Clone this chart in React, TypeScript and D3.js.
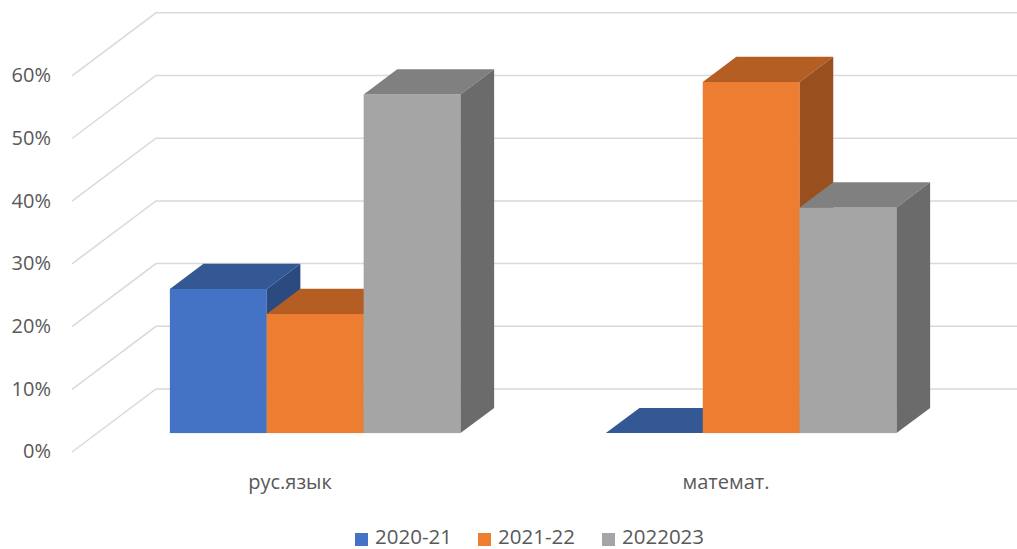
import * as d3 from 'd3';

const categories = ['рус.язык', 'математ.'];
const seriesNames = ['2020-21', '2021-22', '2022023'];
const values2020 = [0.23, 0];
const values2021 = [0.19, 0.56];
const values2022 = [0.54, 0.36];
const tickValues = [0, 0.1, 0.2, 0.3, 0.4, 0.5, 0.6];

const seriesValues = [values2020, values2021, values2022];
const colors = [
  { front: '#4472C4', top: '#335894', side: '#2a4a80' },
  { front: '#ED7D31', top: '#b45e23', side: '#9a4f1e' },
  { front: '#A5A5A5', top: '#808080', side: '#6b6b6b' },
];

const width = 1017;
const height = 549;
const font = '"Open Sans", "DejaVu Sans", sans-serif';

export default function App() {
  // front plane of the floor, depth goes up-right
  const x = d3.scaleBand().domain(categories).range([72, 944]).paddingInner(0).paddingOuter(0);
  const xs = d3.scaleBand().domain(seriesNames).range([0, x.bandwidth()]).paddingInner(0).paddingOuter(0.75);
  const y = d3.scaleLinear().domain([0, 0.6]).range([452, 75.8]);

  const depthX = 84;
  const depthY = -63;
  const d0 = 0.3;
  const d1 = 0.7;
  const ox = depthX * d0, oy = depthY * d0;
  const bx = depthX * (d1 - d0), by = depthY * (d1 - d0);

  const pts = (p: number[][]) => p.map(q => q.join(',')).join(' ');

  const bars: JSX.Element[] = [];
  categories.forEach((cat, ci) => {
    seriesNames.forEach((s, si) => {
      const v = seriesValues[si][ci];
      const xl = (x(cat) as number) + (xs(s) as number) + ox;
      const xr = xl + xs.bandwidth();
      const yb = y(0) + oy;
      const yt = y(v) + oy;
      const c = colors[si];
      bars.push(
        <g key={cat + s}>
          {v > 0 && <rect x={xl} y={yt} width={xr - xl} height={yb - yt} fill={c.front} />}
          <polygon points={pts([[xl, yt], [xr, yt], [xr + bx, yt + by], [xl + bx, yt + by]])} fill={c.top} />
          {v > 0 && <polygon points={pts([[xr, yt], [xr + bx, yt + by], [xr + bx, yb + by], [xr, yb]])} fill={c.side} />}
        </g>
      );
    });
  });

  const x0 = x.range()[0];
  const xEnd = x.range()[1] + depthX;

  return (
    <svg width={width} height={height} style={{ position: 'fixed', left: 0, top: 0, background: '#fff' }}>
      <g fill="none" stroke="#d9d9d9" strokeWidth={1.5}>
        {tickValues.map(t => (
          <polyline key={t} points={pts([[x0, y(t)], [x0 + depthX, y(t) + depthY], [xEnd, y(t) + depthY]])} />
        ))}
      </g>
      {bars}
      <g fill="#595959" fontFamily={font} fontSize={20}>
        {tickValues.map(t => (
          <text key={t} x={51} y={y(t) + 1} textAnchor="end" dominantBaseline="middle">
            {d3.format('.0%')(t)}
          </text>
        ))}
        {categories.map(c => (
          <text key={c} x={(x(c) as number) + x.bandwidth() / 2} y={484} textAnchor="middle" dominantBaseline="middle">
            {c}
          </text>
        ))}
      </g>
      <g fontFamily={font} fontSize={20.5} fill="#595959">
        {seriesNames.map((s, i) => {
          const lx = [355, 478, 602][i];
          return (
            <g key={s}>
              <rect x={lx} y={533} width={13} height={13} fill={colors[i].front} />
              <text x={lx + 20} y={539} dominantBaseline="middle">{s}</text>
            </g>
          );
        })}
      </g>
    </svg>
  );
}
